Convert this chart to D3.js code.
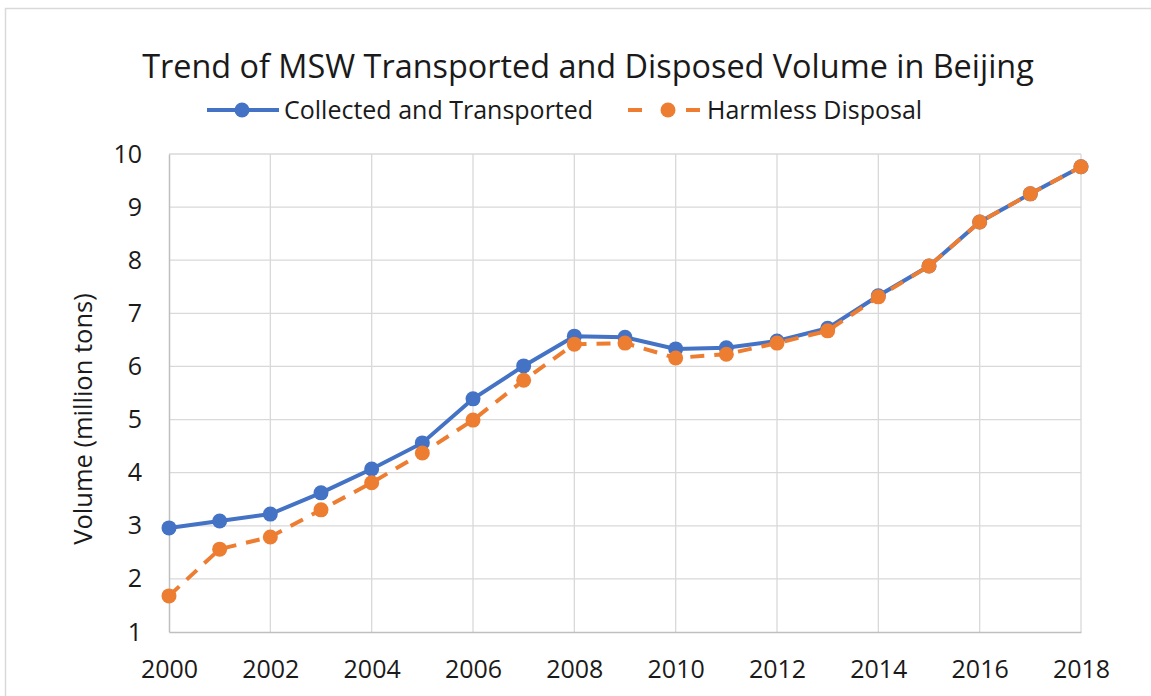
<!DOCTYPE html>
<html>
  <head>
    <meta charset="utf-8">
    <title>Trend of MSW Transported and Disposed Volume in Beijing</title>
    <style>
      body, html{
        margin: 0;
        width: 100%;
        height: 100%;
        background: #fff;
      }
      svg text{
        font-family: "Open Sans", "Noto Sans", sans-serif;
        fill: #1a1a1a;
      }
      .grid line{
        stroke: #d9d9d9;
        stroke-width: 1.3;
      }
    </style>
  </head>
  <body>
    <div id="chart"></div>
    <script src="https://cdn.jsdelivr.net/npm/d3@7"></script>
    <script>

var years = d3.range(2000, 2019)
var collected = [2.96, 3.09, 3.22, 3.62, 4.07, 4.56, 5.39, 6.01, 6.57, 6.55,
  6.33, 6.35, 6.48, 6.72, 7.33, 7.89, 8.72, 9.25, 9.76]
var harmless = [1.68, 2.56, 2.79, 3.30, 3.81, 4.37, 4.99, 5.74, 6.42, 6.44,
  6.16, 6.23, 6.44, 6.67, 7.31, 7.89, 8.72, 9.25, 9.76]
var xTicks = [2000, 2002, 2004, 2006, 2008, 2010, 2012, 2014, 2016, 2018]
var yTicks = [1, 2, 3, 4, 5, 6, 7, 8, 9, 10]

var series = [
  {name: 'Collected and Transported', values: collected, color: '#4472c4', dash: null},
  {name: 'Harmless Disposal', values: harmless, color: '#ed7d31', dash: '14,10'}
]

var W = 1151, H = 696
var plotL = 169, plotR = 1081, plotT = 154, plotB = 632

var svg = d3.select('#chart').append('svg')
  .attr('width', W).attr('height', H)

// outer chart border
svg.append('rect')
  .attr('x', 5.5).attr('y', 8.5)
  .attr('width', W + 10).attr('height', H + 10)
  .attr('fill', 'none').attr('stroke', '#d9d9d9').attr('stroke-width', 1.5)

var x = d3.scaleLinear().domain([2000, 2018]).range([plotL, plotR])
var y = d3.scaleLinear().domain([1, 10]).range([plotB, plotT])

// gridlines
var grid = svg.append('g').attr('class', 'grid')
grid.selectAll('.h').data(yTicks.slice(1)).enter().append('line')
  .attr('x1', plotL).attr('x2', plotR)
  .attr('y1', function(d){ return y(d) }).attr('y2', function(d){ return y(d) })
grid.selectAll('.v').data(xTicks.slice(1)).enter().append('line')
  .attr('y1', plotT).attr('y2', plotB)
  .attr('x1', function(d){ return x(d) }).attr('x2', function(d){ return x(d) })

// axes
var xAxis = svg.append('g')
  .attr('transform', 'translate(0,' + plotB + ')')
  .call(d3.axisBottom(x).tickValues(xTicks).tickFormat(d3.format('d')).tickSize(0).tickPadding(28))
var yAxis = svg.append('g')
  .attr('transform', 'translate(' + plotL + ',0)')
  .call(d3.axisLeft(y).tickValues(yTicks).tickSize(0).tickPadding(27))
;[xAxis, yAxis].forEach(function(a){
  a.select('.domain').attr('stroke', '#bfbfbf').attr('stroke-width', 1.5)
  a.selectAll('text').style('font-size', '25px').attr('fill', '#1a1a1a')
})

// lines and markers
var line = d3.line()
  .x(function(d, i){ return x(years[i]) })
  .y(function(d){ return y(d) })

series.forEach(function(s){
  svg.append('path')
    .datum(s.values)
    .attr('d', line)
    .attr('fill', 'none')
    .attr('stroke', s.color)
    .attr('stroke-width', 4)
    .attr('stroke-dasharray', s.dash)
  svg.append('g').selectAll('circle').data(s.values).enter().append('circle')
    .attr('cx', function(d, i){ return x(years[i]) })
    .attr('cy', function(d){ return y(d) })
    .attr('r', 7.5)
    .attr('fill', s.color)
})

// title
svg.append('text')
  .attr('x', 588).attr('y', 78)
  .attr('text-anchor', 'middle')
  .style('font-size', '32.4px')
  .text('Trend of MSW Transported and Disposed Volume in Beijing')

// y label
svg.append('text')
  .attr('transform', 'translate(92,419) rotate(-90)')
  .attr('text-anchor', 'middle')
  .style('font-size', '25.5px')
  .text('Volume (million tons)')

// legend
var legend = [
  {s: series[0], x: 207, tx: 284},
  {s: series[1], x: 628, tx: 707}
]
legend.forEach(function(l){
  var g = svg.append('g').attr('transform', 'translate(' + l.x + ',110)')
  if(l.s.dash){
    g.append('line').attr('x1', 0).attr('x2', 14).attr('stroke', l.s.color).attr('stroke-width', 4)
    g.append('line').attr('x1', 58).attr('x2', 72).attr('stroke', l.s.color).attr('stroke-width', 4)
  } else {
    g.append('line').attr('x1', 0).attr('x2', 72).attr('stroke', l.s.color).attr('stroke-width', 4)
  }
  g.append('circle').attr('cx', l.s.dash ? 40 : 35).attr('r', 7.5).attr('fill', l.s.color)
  svg.append('text')
    .attr('x', l.tx).attr('y', 110).attr('dy', '0.35em')
    .style('font-size', '25px')
    .text(l.s.name)
})
    </script>
  </body>
</html>
